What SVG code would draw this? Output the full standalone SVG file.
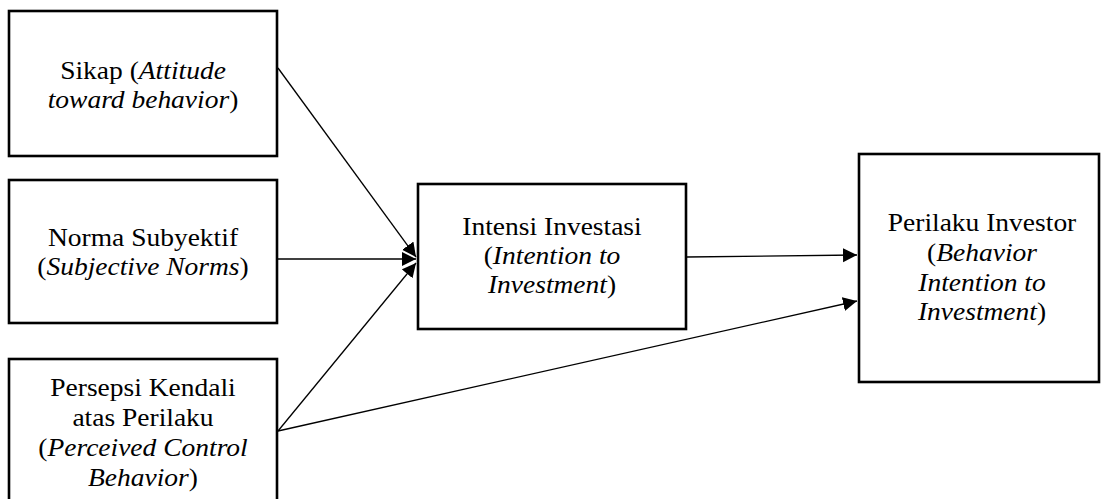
<svg xmlns="http://www.w3.org/2000/svg" width="1103" height="499" viewBox="0 0 1103 499">
<style>
.box{fill:#fff;stroke:#000;stroke-width:2.6}
.t{font-family:"Liberation Serif","Times New Roman",serif;font-size:25px;fill:#000;text-anchor:middle}
.i{font-style:italic}
.c{stroke:#000;stroke-width:1.3;fill:none}
</style>
<defs>
<marker id="ah" markerUnits="userSpaceOnUse" markerWidth="15" markerHeight="15" refX="14" refY="7" orient="auto">
<path d="M0,0 L14,7 L0,14 z" fill="#000"/>
</marker>
</defs>
<rect width="1103" height="499" fill="#fff"/>
<g id="connectors">
<line class="c" x1="278" y1="68" x2="416" y2="257" marker-end="url(#ah)"/>
<line class="c" x1="278" y1="259" x2="416" y2="259" marker-end="url(#ah)"/>
<line class="c" x1="278" y1="431" x2="416" y2="263" marker-end="url(#ah)"/>
<line class="c" x1="687" y1="257" x2="857" y2="255" marker-end="url(#ah)"/>
<line class="c" x1="278" y1="431" x2="857" y2="301" marker-end="url(#ah)"/>
</g>
<g id="sikap">
<rect class="box" x="9" y="11" width="268" height="145"/>
<g transform="translate(143,0) scale(1.1,1)">
<text class="t" x="0" y="79">Sikap (<tspan class="i">Attitude</tspan></text>
<text class="t" x="0" y="108"><tspan class="i">toward behavior</tspan>)</text>
</g>
</g>
<g id="norma">
<rect class="box" x="9" y="180" width="268" height="143"/>
<g transform="translate(143,0) scale(1.1,1)">
<text class="t" x="0" y="246">Norma Subyektif</text>
<text class="t" x="0" y="275">(<tspan class="i">Subjective Norms</tspan>)</text>
</g>
</g>
<g id="persepsi">
<rect class="box" x="9" y="359" width="268" height="160"/>
<g transform="translate(143,0) scale(1.1,1)">
<text class="t" x="0" y="396">Persepsi Kendali</text>
<text class="t" x="0" y="426">atas Perilaku</text>
<text class="t" x="0" y="456">(<tspan class="i">Perceived Control</tspan></text>
<text class="t" x="0" y="486"><tspan class="i">Behavior</tspan>)</text>
</g>
</g>
<g id="intensi">
<rect class="box" x="418" y="184" width="268" height="145"/>
<g transform="translate(552,0) scale(1.1,1)">
<text class="t" x="0" y="235">Intensi Investasi</text>
<text class="t" x="0" y="264">(<tspan class="i">Intention to</tspan></text>
<text class="t" x="0" y="293"><tspan class="i">Investment</tspan>)</text>
</g>
</g>
<g id="perilaku">
<rect class="box" x="859" y="154" width="240" height="228"/>
<g transform="translate(982,0) scale(1.1,1)">
<text class="t" x="0" y="231">Perilaku Investor</text>
<text class="t" x="0" y="261">(<tspan class="i">Behavior</tspan></text>
<text class="t" x="0" y="291"><tspan class="i">Intention to</tspan></text>
<text class="t" x="0" y="320"><tspan class="i">Investment</tspan>)</text>
</g>
</g>
</svg>
